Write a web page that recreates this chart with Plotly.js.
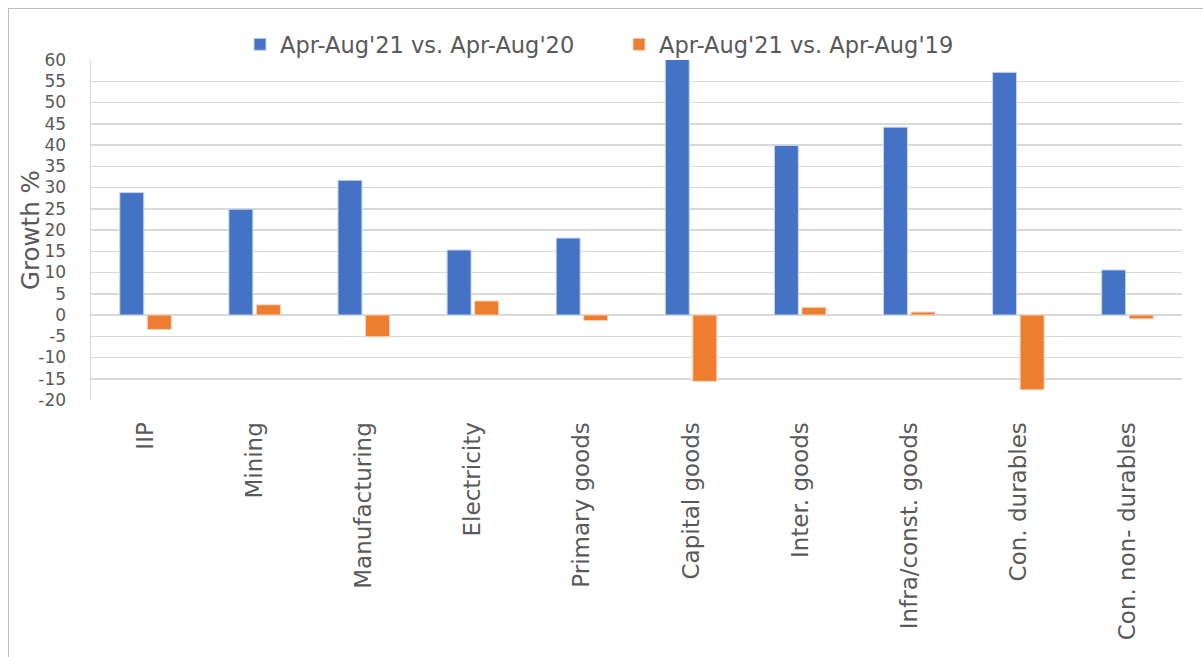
<!DOCTYPE html>
<html>
<head>
<meta charset="utf-8">
<script src="https://cdn.plot.ly/plotly-3.0.1.min.js"></script>
<style>
  html, body { margin: 0; padding: 0; background: #fff; }
  #chart { width: 1203px; height: 657px; position: relative; }
  #frame { position: absolute; left: 8px; top: 8px; width: 1195px; height: 649px;
           border-top: 1.5px solid #bfbfbf; border-left: 1.5px solid #bfbfbf;
           pointer-events: none; box-sizing: border-box; }
</style>
</head>
<body>
<div id="chart"></div>
<div id="frame"></div>
<script>
const categories = ["IIP", "Mining", "Manufacturing", "Electricity", "Primary goods",
  "Capital goods", "Inter. goods", "Infra/const. goods", "Con. durables", "Con. non- durables"];
const series1Name = "Apr-Aug'21 vs. Apr-Aug'20";
const series2Name = "Apr-Aug'21 vs. Apr-Aug'19";
const series1 = [28.8, 24.9, 31.7, 15.3, 18.1, 61.0, 39.9, 44.2, 57.1, 10.6];
const series2 = [-3.4, 2.4, -5.1, 3.3, -1.3, -15.6, 1.8, 0.7, -17.6, -0.9];
const yTicks = [-20, -15, -10, -5, 0, 5, 10, 15, 20, 25, 30, 35, 40, 45, 50, 55, 60];
const yTitle = "Growth %";

const fontFam = "'DejaVu Sans', 'Open Sans', sans-serif";
const gray = "#595959";

const traces = [
  { type: "bar", name: series1Name, x: categories, y: series1,
    marker: { color: "#4472c4", line: { color: "#c9d6ee", width: 1 } } },
  { type: "bar", name: series2Name, x: categories, y: series2,
    marker: { color: "#ed7d31", line: { color: "#f7d3bb", width: 1 } } }
];

const layout = {
  width: 1203, height: 657,
  margin: { l: 91, r: 21, t: 60, b: 257, pad: 0 },
  paper_bgcolor: "#fff", plot_bgcolor: "#fff",
  barmode: "group", bargap: 0.495, bargroupgap: 0.13,
  font: { family: fontFam, color: gray },
  showlegend: true,
  legend: { orientation: "h", x: (240 - 91) / 1091, xanchor: "left", y: 1.045, yanchor: "middle",
            font: { size: 22.5, color: gray, family: fontFam },
            entrywidth: 334, entrywidthmode: "pixels", itemwidth: 30,
            traceorder: "normal", bgcolor: "rgba(0,0,0,0)" },
  xaxis: { type: "category", tickangle: -90, showgrid: false, zeroline: false,
           showline: false, ticks: "outside", ticklen: 12, tickcolor: "rgba(0,0,0,0)",
           tickfont: { size: 23, color: gray, family: fontFam }, automargin: false },
  yaxis: { range: [-20, 60], tickmode: "array", tickvals: yTicks, ticktext: yTicks.map(String),
           showgrid: true, gridcolor: "#d9d9d9", gridwidth: 1.5,
           zeroline: true, zerolinecolor: "#d9d9d9", zerolinewidth: 1.5,
           showline: true, linecolor: "#d9d9d9", linewidth: 1.5,
           ticks: "outside", ticklen: 20, tickcolor: "rgba(0,0,0,0)",
           tickfont: { size: 17, color: gray, family: fontFam },
           automargin: false },
  annotations: [
    { text: yTitle, textangle: -90, xref: "paper", yref: "paper",
      x: (30 - 91) / 1091, y: (400 - 230) / 340, xanchor: "center", yanchor: "middle",
      showarrow: false, font: { size: 24.5, color: gray, family: fontFam } }
  ]
};

Plotly.newPlot("chart", traces, layout, { displayModeBar: false, staticPlot: true });
</script>
</body>
</html>
